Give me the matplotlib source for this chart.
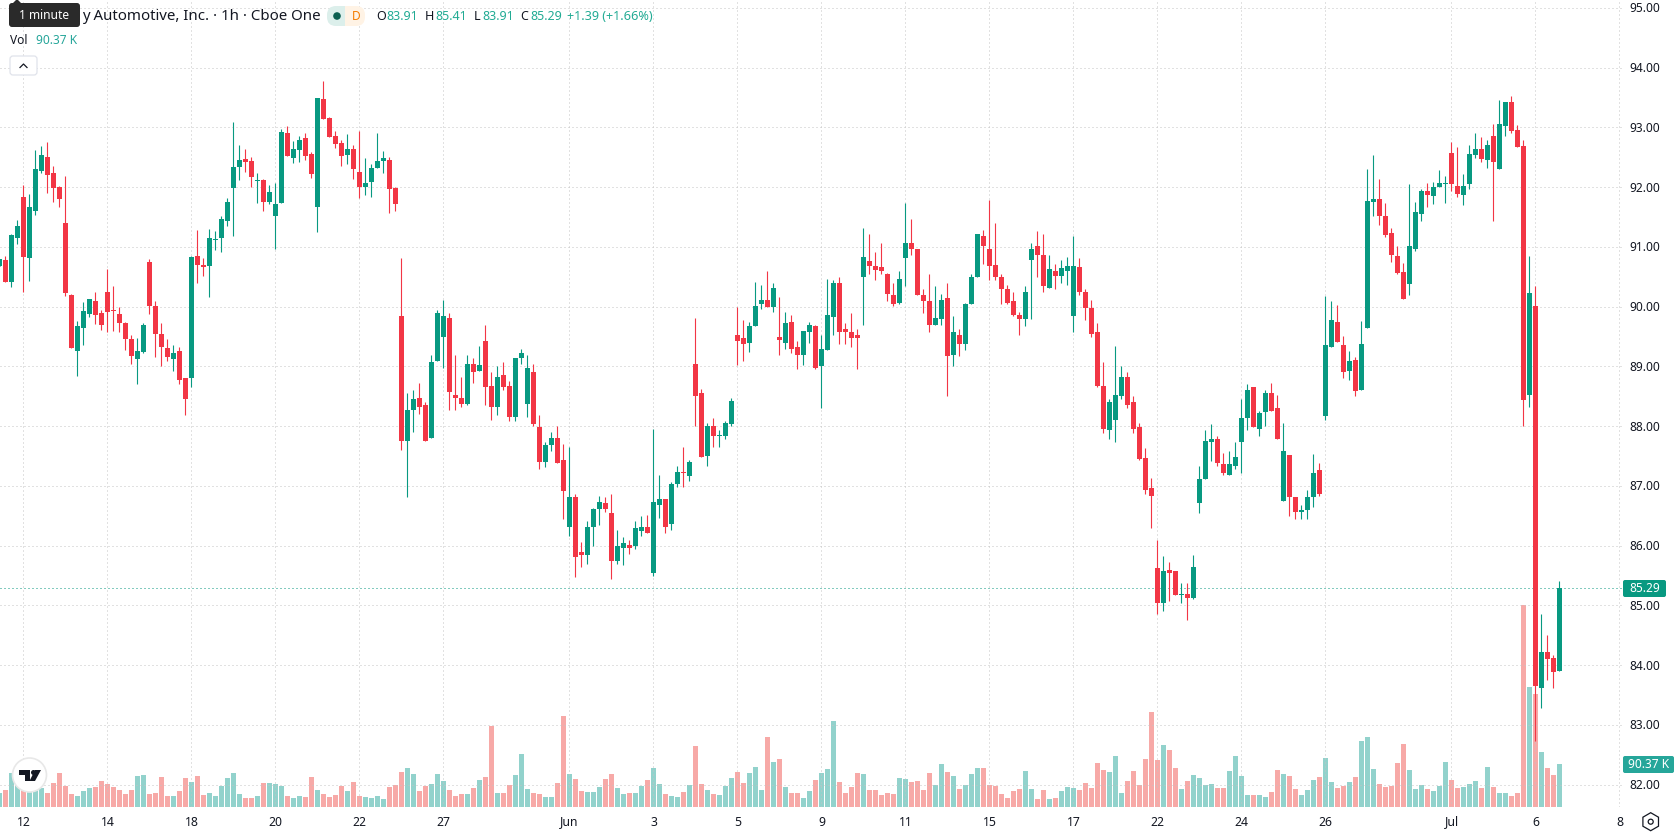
import numpy as np
import matplotlib
matplotlib.use("Agg")
import matplotlib.pyplot as plt
from matplotlib.patches import Circle, FancyBboxPatch, Polygon, Rectangle, RegularPolygon

plt.rcParams["font.family"] = ["Noto Sans", "DejaVu Sans"]

opens = [
    90.68, 90.78, 90.41, 91.15, 91.84, 90.82, 91.60, 92.27, 92.51, 92.24,
    92.00, 91.40, 90.20, 89.26, 89.64, 89.88, 90.10, 89.90, 90.25, 89.95,
    89.88, 89.73, 89.46, 89.13, 89.24, 90.75, 90.01, 89.54, 89.31, 89.13,
    89.26, 88.81, 88.81, 90.85, 90.70, 90.68, 91.12, 91.15, 91.44, 91.99,
    92.34, 92.47, 92.44, 92.10, 92.12, 91.75, 91.52, 91.74, 92.91, 92.49,
    92.62, 92.82, 92.56, 91.67, 93.48, 93.16, 92.86, 92.74, 92.54, 92.64,
    92.26, 92.00, 92.09, 92.32, 92.44, 92.46, 91.99, 89.84, 87.75, 88.27,
    88.47, 88.35, 87.81, 89.09, 89.50, 89.81, 88.52, 88.48, 88.37, 89.04,
    88.93, 89.42, 88.67, 88.33, 88.85, 88.67, 88.16, 89.14, 88.37, 88.90,
    87.98, 87.41, 87.68, 87.80, 87.43, 86.32, 86.81, 85.89, 85.84, 86.32,
    86.62, 86.71, 86.54, 85.75, 85.97, 86.02, 85.99, 86.24, 86.31, 85.55,
    86.68, 86.78, 86.36, 87.03, 87.23, 87.16, 89.05, 88.55, 87.50, 88.01,
    87.83, 87.83, 88.03, 89.52, 89.47, 89.39, 89.67, 90.04, 90.11, 89.99,
    89.49, 89.39, 89.74, 89.32, 89.20, 89.57, 89.67, 89.00, 89.27, 89.83,
    90.40, 89.62, 89.57, 89.52, 90.49, 90.77, 90.69, 90.67, 90.54, 90.20,
    90.07, 90.82, 91.07, 90.97, 90.19, 90.10, 89.70, 89.80, 90.14, 89.20,
    89.53, 89.37, 90.04, 90.50, 91.19, 90.97, 90.70, 90.50, 90.29, 90.09,
    89.87, 89.80, 90.79, 91.01, 90.87, 90.32, 90.60, 90.52, 90.60, 89.85,
    90.67, 90.25, 89.98, 89.57, 88.68, 87.93, 88.11, 88.51, 88.83, 88.40,
    87.99, 87.47, 86.96, 85.62, 85.05, 85.60, 85.57, 85.18, 85.20, 85.13,
    86.72, 87.11, 87.73, 87.78, 87.37, 87.19, 87.34, 87.73, 88.13, 88.65,
    87.96, 88.24, 88.55, 88.31, 86.75, 87.52, 86.82, 86.57, 86.60, 86.82,
    87.26, 88.17, 89.32, 89.74, 89.36, 88.92, 89.11, 88.60, 89.64, 91.75,
    91.80, 91.52, 91.23, 90.85, 90.58, 90.38, 90.96, 91.55, 91.93, 91.85,
    92.00, 92.05, 92.57, 92.02, 91.87, 92.05, 92.54, 92.64, 92.45, 92.85,
    92.30, 93.02, 93.42, 92.95, 92.69, 88.52, 90.01, 83.62, 84.22, 84.12,
    83.91,
]
highs = [
    90.80, 90.85, 91.21, 91.45, 92.04, 91.89, 92.62, 92.69, 92.76, 92.36,
    92.02, 92.19, 90.21, 89.76, 90.08, 90.13, 90.25, 89.95, 90.63, 90.35,
    90.00, 89.74, 89.53, 89.48, 89.73, 90.80, 90.10, 89.73, 89.46, 89.36,
    89.33, 88.81, 90.85, 91.28, 90.82, 91.30, 91.27, 91.52, 91.82, 93.09,
    92.71, 92.64, 92.51, 92.24, 92.14, 92.04, 92.07, 92.97, 93.03, 92.77,
    92.86, 92.91, 92.59, 93.49, 93.78, 93.18, 92.94, 92.79, 92.89, 92.71,
    92.94, 92.49, 92.39, 92.91, 92.61, 92.51, 92.00, 90.81, 88.55, 88.60,
    88.73, 88.40, 89.19, 89.94, 90.11, 89.89, 89.19, 88.82, 89.19, 89.15,
    89.35, 89.69, 88.90, 89.00, 89.07, 88.75, 89.15, 89.30, 89.19, 89.05,
    88.18, 87.73, 87.91, 88.01, 87.71, 87.66, 86.86, 86.06, 86.42, 86.64,
    86.83, 86.81, 86.86, 86.26, 86.14, 86.09, 86.42, 86.49, 86.51, 87.95,
    87.18, 86.78, 87.06, 87.33, 87.66, 87.43, 89.81, 88.62, 88.05, 88.13,
    87.93, 88.08, 88.47, 89.99, 89.77, 89.74, 90.41, 90.36, 90.59, 90.39,
    90.16, 89.92, 89.87, 89.42, 89.60, 89.74, 89.70, 89.53, 90.47, 90.45,
    90.49, 89.72, 89.90, 89.62, 91.32, 91.22, 90.91, 91.06, 90.57, 90.40,
    90.60, 91.74, 91.47, 90.97, 90.29, 90.55, 90.34, 90.22, 90.40, 89.85,
    89.62, 90.07, 90.54, 91.22, 91.29, 91.79, 91.41, 90.54, 90.37, 90.25,
    89.92, 90.35, 91.06, 91.27, 91.21, 90.87, 90.72, 90.79, 90.84, 91.18,
    90.82, 90.30, 90.12, 89.73, 89.08, 88.46, 89.35, 89.01, 88.91, 88.51,
    88.06, 87.63, 87.14, 86.10, 85.83, 85.73, 85.57, 85.37, 85.37, 85.85,
    87.34, 87.93, 88.03, 87.83, 87.56, 87.58, 87.74, 88.46, 88.70, 88.66,
    88.26, 88.60, 88.73, 88.53, 88.06, 87.52, 86.82, 86.69, 86.94, 87.54,
    87.39, 90.18, 90.09, 90.03, 89.51, 89.26, 89.16, 89.76, 92.30, 92.54,
    92.14, 91.73, 91.32, 91.01, 90.73, 92.05, 91.75, 91.97, 92.07, 92.08,
    92.29, 92.18, 92.75, 92.67, 92.22, 92.70, 92.91, 92.84, 92.79, 93.06,
    93.46, 93.42, 93.52, 93.04, 92.79, 90.85, 90.34, 84.86, 84.50, 84.17,
    85.41,
]
lows = [
    90.68, 90.41, 90.33, 91.05, 90.24, 90.43, 91.54, 92.24, 91.90, 91.75,
    91.67, 90.18, 89.31, 88.84, 89.36, 89.83, 89.71, 89.61, 89.58, 89.59,
    89.58, 89.28, 89.04, 88.71, 89.23, 89.88, 89.16, 89.01, 89.09, 88.92,
    88.71, 88.19, 88.66, 90.40, 90.51, 90.16, 90.95, 90.92, 91.35, 91.18,
    92.12, 92.26, 92.00, 91.74, 91.60, 91.72, 90.97, 91.74, 92.52, 92.41,
    92.42, 92.46, 92.15, 91.25, 93.14, 92.84, 92.66, 92.36, 92.39, 92.14,
    91.82, 91.87, 91.84, 92.32, 92.24, 91.57, 91.60, 87.60, 86.81, 87.90,
    88.20, 87.76, 87.80, 89.09, 88.97, 88.28, 88.27, 88.32, 88.35, 88.72,
    88.93, 88.35, 88.10, 88.18, 88.60, 88.08, 88.08, 89.04, 88.15, 88.00,
    87.28, 87.31, 87.58, 87.39, 86.44, 86.16, 85.47, 85.64, 85.70, 85.99,
    86.34, 86.57, 85.44, 85.70, 85.67, 85.87, 85.94, 86.16, 86.21, 85.49,
    86.46, 86.22, 86.26, 86.98, 86.98, 87.09, 88.01, 87.48, 87.34, 87.65,
    87.65, 87.78, 88.01, 89.02, 89.09, 89.24, 89.67, 89.97, 89.99, 89.92,
    89.19, 89.29, 89.22, 88.95, 89.02, 89.40, 88.95, 88.30, 89.27, 89.52,
    89.37, 89.37, 89.33, 88.95, 89.70, 90.55, 90.44, 90.54, 90.09, 90.02,
    90.05, 90.35, 90.87, 90.19, 89.90, 89.58, 89.70, 89.70, 88.50, 89.01,
    89.18, 89.28, 90.04, 90.50, 90.72, 90.44, 90.45, 90.05, 90.04, 89.85,
    89.53, 89.67, 89.80, 90.50, 90.25, 90.32, 90.30, 90.39, 90.37, 89.58,
    90.20, 89.77, 89.50, 88.65, 87.89, 87.79, 87.74, 88.45, 88.30, 87.88,
    87.44, 86.86, 86.30, 84.85, 84.90, 85.08, 85.18, 85.05, 84.76, 85.11,
    86.54, 87.11, 87.42, 87.34, 87.19, 87.19, 87.29, 87.21, 87.94, 87.98,
    87.83, 88.01, 88.26, 87.79, 86.75, 86.50, 86.45, 86.44, 86.45, 86.65,
    86.84, 88.10, 89.32, 89.41, 88.80, 88.77, 88.50, 88.60, 89.64, 91.52,
    91.37, 91.16, 90.75, 90.55, 90.13, 90.19, 90.93, 91.43, 91.67, 91.72,
    92.00, 91.73, 91.93, 91.83, 91.70, 91.97, 92.49, 92.42, 92.32, 91.43,
    92.30, 92.85, 92.91, 92.67, 88.00, 88.32, 82.73, 83.28, 83.75, 83.62,
    83.91,
]
closes = [
    90.80, 90.41, 91.20, 91.35, 90.83, 91.67, 92.31, 92.54, 92.20, 91.99,
    91.80, 90.23, 89.31, 89.68, 89.93, 90.13, 89.86, 89.69, 89.91, 89.93,
    89.73, 89.46, 89.18, 89.26, 89.69, 90.01, 89.54, 89.33, 89.16, 89.23,
    88.77, 88.46, 90.83, 90.70, 90.66, 91.15, 91.13, 91.47, 91.75, 92.34,
    92.46, 92.42, 92.17, 92.12, 91.75, 91.92, 91.72, 92.92, 92.52, 92.64,
    92.79, 92.52, 92.22, 93.49, 93.14, 92.84, 92.72, 92.52, 92.64, 92.31,
    92.00, 92.07, 92.32, 92.44, 92.49, 91.97, 91.72, 87.75, 88.28, 88.45,
    88.33, 87.76, 89.07, 89.89, 89.84, 88.57, 88.47, 88.38, 89.05, 88.90,
    89.02, 88.65, 88.33, 88.82, 88.65, 88.15, 89.15, 89.22, 88.98, 88.03,
    87.41, 87.68, 87.80, 87.39, 86.91, 86.81, 85.82, 85.84, 86.31, 86.61,
    86.73, 86.61, 85.75, 85.99, 86.04, 85.97, 86.29, 86.31, 86.22, 86.74,
    86.78, 86.31, 87.03, 87.23, 87.21, 87.41, 88.50, 87.48, 88.01, 87.83,
    87.85, 88.05, 88.42, 89.42, 89.37, 89.67, 90.02, 90.11, 89.99, 90.32,
    89.44, 89.72, 89.30, 89.19, 89.59, 89.69, 88.98, 89.30, 89.87, 90.39,
    89.58, 89.57, 89.47, 89.47, 90.84, 90.69, 90.62, 90.60, 90.22, 90.05,
    90.47, 91.07, 90.97, 90.19, 90.09, 89.70, 89.82, 90.12, 89.18, 89.57,
    89.37, 90.05, 90.49, 91.21, 91.01, 90.69, 90.49, 90.29, 90.07, 89.87,
    89.80, 90.24, 90.96, 90.87, 90.34, 90.64, 90.52, 90.65, 90.69, 90.69,
    90.25, 89.98, 89.55, 88.68, 87.96, 88.41, 88.53, 88.83, 88.36, 87.96,
    87.46, 86.94, 86.84, 85.05, 85.58, 85.55, 85.18, 85.20, 85.13, 85.65,
    87.11, 87.76, 87.78, 87.39, 87.21, 87.37, 87.49, 88.14, 88.61, 87.98,
    88.23, 88.55, 88.26, 87.79, 87.58, 86.82, 86.57, 86.60, 86.82, 87.22,
    86.86, 89.36, 89.78, 89.41, 88.90, 89.09, 88.59, 89.37, 91.77, 91.80,
    91.52, 91.20, 90.86, 90.56, 90.13, 91.01, 91.58, 91.93, 91.87, 92.00,
    92.07, 92.07, 92.05, 91.88, 92.02, 92.55, 92.64, 92.47, 92.70, 92.42,
    93.06, 93.42, 92.94, 92.67, 88.44, 90.23, 83.66, 84.22, 84.10, 83.88,
    85.29,
]
# volume in thousands of shares
volumes = [
    29.4, 35.7, 71.5, 49.0, 35.0, 34.0, 36.0, 39.9, 29.4, 50.4,
    71.5, 44.1, 27.3, 23.1, 33.6, 39.9, 42.0, 54.6, 48.3, 42.0,
    35.7, 27.3, 35.7, 65.1, 67.2, 27.3, 29.4, 63.0, 23.1, 23.1,
    33.6, 60.9, 52.5, 65.1, 25.2, 29.4, 23.1, 44.1, 60.9, 71.5,
    27.3, 18.9, 18.9, 23.1, 50.4, 50.4, 48.3, 44.1, 23.1, 18.9,
    23.1, 21.0, 63.0, 35.7, 27.3, 21.0, 25.2, 44.1, 33.6, 52.5,
    23.1, 21.0, 18.9, 23.1, 16.8, 42.0, 46.2, 73.6, 82.0, 69.4,
    33.6, 44.1, 48.3, 69.4, 54.6, 35.7, 23.1, 27.3, 27.3, 39.9,
    56.7, 63.0, 170.2, 29.4, 29.4, 46.2, 67.2, 111.4, 37.8, 29.4,
    27.3, 21.0, 21.0, 50.4, 191.2, 69.4, 58.8, 33.6, 31.5, 31.5,
    42.0, 58.8, 69.4, 39.9, 27.3, 29.4, 29.4, 44.1, 56.7, 82.0,
    48.3, 27.3, 23.1, 21.0, 31.5, 46.2, 128.2, 48.3, 35.7, 27.3,
    25.2, 44.1, 60.9, 73.6, 50.4, 71.5, 84.1, 35.7, 147.1, 94.6,
    100.9, 42.0, 29.4, 29.4, 18.9, 33.6, 56.7, 71.5, 79.9, 180.7,
    52.5, 29.4, 42.0, 71.5, 69.4, 35.7, 35.7, 25.2, 29.4, 27.3,
    60.9, 58.8, 52.5, 54.6, 35.7, 71.5, 46.2, 90.4, 73.6, 65.1,
    37.8, 46.2, 69.4, 82.0, 82.0, 46.2, 44.1, 27.3, 18.9, 33.6,
    37.8, 75.7, 37.8, 16.8, 35.7, 16.8, 18.9, 33.6, 42.0, 39.9,
    35.7, 50.4, 39.9, 92.5, 77.8, 73.6, 107.2, 29.4, 54.6, 75.7,
    46.2, 100.9, 199.6, 98.8, 130.3, 119.8, 82.0, 37.8, 54.6, 67.2,
    60.9, 46.2, 48.3, 39.9, 39.9, 75.7, 107.2, 65.1, 25.2, 25.2,
    25.2, 21.0, 31.5, 77.8, 69.4, 65.1, 37.8, 25.2, 35.7, 56.7,
    63.0, 103.0, 52.5, 39.9, 44.1, 52.5, 63.0, 138.7, 147.1, 79.9,
    48.3, 42.0, 44.1, 92.5, 132.4, 77.8, 37.8, 46.2, 37.8, 33.6,
    44.1, 94.6, 56.7, 39.9, 42.0, 48.3, 54.6, 39.9, 84.1, 42.0,
    29.4, 29.4, 23.1, 29.4, 424.5, 252.2, 237.5, 115.6, 82.0, 67.2,
    90.37,
]

price_ticks = [82, 83, 84, 85, 86, 87, 88, 89, 90, 91, 92, 93, 94, 95]
bold_prices = [85, 90, 95]
time_ticks = [4, 18, 32, 46, 60, 74, 95, 109, 123, 137, 151, 165, 179, 193, 207, 221, 242, 256, 270]
time_labels = ["12", "14", "18", "20", "22", "27", "Jun", "3", "5", "9", "11", "15", "17", "22", "24", "26", "Jul", "6", "8"]
bold_times = ["Jun", "Jul"]

W, H = 1678, 835
PANE_R, PANE_B = 1622, 807
UP, DOWN = "#089981", "#F23645"
VOL_UP, VOL_DOWN = "#92D2CC", "#F7A9A7"
TEXT = "#131722"
TEAL = "#22AB94"
PX_PER_BAR = 6.0
PX_PER_DOLLAR = 59.75
PX_PER_KVOL = 43.0 / 90.37
DOTTED = (0, (1, 3))


def ypx(price):
    return 127.5 + (93 - price) * PX_PER_DOLLAR


xs = np.arange(len(closes))
o, h, l, c = map(np.array, (opens, highs, lows, closes))
up = c >= o

fig = plt.figure(figsize=(W / 100, H / 100), dpi=100, facecolor="white")
rect = [0, 1 - PANE_B / H, PANE_R / W, PANE_B / H]
xlim = (0.5 / PX_PER_BAR, (PANE_R + 0.5) / PX_PER_BAR)

# volume pane sits under the candles
ax_vol = fig.add_axes(rect, zorder=1)
ax_vol.set_xlim(*xlim)
ax_vol.set_ylim(0, PANE_B / PX_PER_KVOL)
ax_vol.axis("off")
ax_vol.bar(xs, volumes, width=5 / PX_PER_BAR, color=np.where(up, VOL_UP, VOL_DOWN), linewidth=0)

ax = fig.add_axes(rect, zorder=2)
ax.patch.set_alpha(0)
ax.set_xlim(*xlim)
ax.set_ylim(93 - (PANE_B - 127.5) / PX_PER_DOLLAR, 93 + 127.5 / PX_PER_DOLLAR)
ax.set_axis_off()

grid = dict(color="#C4C4C4", linewidth=0.72, linestyle=DOTTED, zorder=0)
for p in price_ticks:
    ax.axhline(p, **grid)
for t in time_ticks:
    ax.axvline(t, **grid)
ax.axhline(closes[-1], color=UP, linewidth=0.72, linestyle=DOTTED, zorder=1)

colors = np.where(up, UP, DOWN)
ax.vlines(xs, l, h, colors=colors, linewidth=0.8, zorder=2)
ax.bar(xs, np.abs(c - o), bottom=np.minimum(o, c), width=5 / PX_PER_BAR, color=colors, linewidth=0, zorder=3)

# everything around the panes is placed in pixels on one overlay
ui = fig.add_axes([0, 0, 1, 1], zorder=3)
ui.patch.set_alpha(0)
ui.set_xlim(0, W)
ui.set_ylim(H, 0)
ui.axis("off")

for p in price_ticks:
    ui.text(1660, ypx(p) + 0.8, f"{p:.2f}", ha="right", va="center", fontsize=8.6, color=TEXT,
            fontweight="bold" if p in bold_prices else "normal")
for t, lab in zip(time_ticks, time_labels):
    ui.text(t * PX_PER_BAR - 0.5, 822, lab, ha="center", va="center", fontsize=8.8, color=TEXT,
            fontweight="bold" if lab in bold_times else "normal")

# last price and last volume badges
ui.add_patch(FancyBboxPatch((1623, 580), 43, 17, boxstyle="round,pad=0,rounding_size=2", fc=UP, ec="none"))
ui.text(1645, 588.5, f"{closes[-1]:.2f}", ha="center", va="center", fontsize=8.6, color="white")
ui.add_patch(FancyBboxPatch((1623, 756), 51, 17, boxstyle="round,pad=0,rounding_size=2", fc="#26A69A", ec="none"))
ui.text(1648.5, 764.5, f"{volumes[-1]:.2f} K", ha="center", va="center", fontsize=8.6, color="white")

# settings hexagon
ui.add_patch(RegularPolygon((1650.7, 821.7), 6, radius=9, fc="none", ec=TEXT, lw=0.9))
ui.add_patch(Circle((1650.7, 821.7), 2.5, fc="none", ec=TEXT, lw=0.9))

# legend rows
ui.text(82, 16, "y Automotive, Inc. · 1h · Cboe One", va="center", fontsize=10.8, color=TEXT)

ui.add_patch(FancyBboxPatch((9, 3), 71, 24, boxstyle="round,pad=0,rounding_size=3", fc="#2A2A2A", ec="none"))
ui.add_patch(Polygon([(12, 4), (17, -1), (22, 4)], fc="#2A2A2A", ec="none"))
ui.text(44, 15.5, "1 minute", ha="center", va="center", fontsize=8.6, color="white")

ui.add_patch(FancyBboxPatch((327, 6), 20, 20, boxstyle="round,pad=0,rounding_size=9", fc="#DCEFEB", ec="none"))
ui.add_patch(Rectangle((339, 6), 8, 20, fc="#DCEFEB", ec="none"))
ui.add_patch(FancyBboxPatch((345, 6), 20, 20, boxstyle="round,pad=0,rounding_size=9", fc="#FFF3E5", ec="none"))
ui.add_patch(Rectangle((345, 6), 8, 20, fc="#FFF3E5", ec="none"))
ui.add_patch(Circle((337, 16), 3.8, fc="#0B5F50", ec="none"))
ui.text(356, 16, "D", ha="center", va="center", fontsize=8.6, color="#F57C00")

ohlc = [("O", 376, opens[-1]), ("H", 425, highs[-1]), ("L", 474, lows[-1]), ("C", 520, closes[-1])]
for name, x0, val in ohlc:
    ui.text(x0, 16, name, va="center", fontsize=9, color=TEXT)
    ui.text(x0 + (8 if name == "L" else 10.5), 16, f"{val:.2f}", va="center", fontsize=9, color=TEAL)
ui.text(567, 16, "+1.39 (+1.66%)", va="center", fontsize=9.1, color=TEAL)

ui.text(10, 40, "Vol", va="center", fontsize=8.6, color=TEXT)
ui.text(36, 40, f"{volumes[-1]:.2f} K", va="center", fontsize=8.6, color="#26A69A")

# collapse button
ui.add_patch(FancyBboxPatch((10, 56), 27, 19, boxstyle="round,pad=0,rounding_size=3", fc="white", ec="#E0E3EB", lw=0.9))
ui.plot([20, 23.5, 27], [67.5, 64, 67.5], color=TEXT, lw=0.9)

# logo badge
ui.add_patch(Circle((29.5, 775), 17, fc="white", ec="#E8E8E8", lw=1.2))
ui.add_patch(Polygon([(19, 770), (30, 770), (30, 781), (25, 781), (25, 775), (19, 775)], fc="#131722", ec="none"))
ui.add_patch(Circle((33.5, 772.5), 2.5, fc="#131722", ec="none"))
ui.add_patch(Polygon([(35, 770), (41, 770), (35, 781), (29.5, 781)], fc="#131722", ec="none"))

fig.savefig("out.png", dpi=100)
